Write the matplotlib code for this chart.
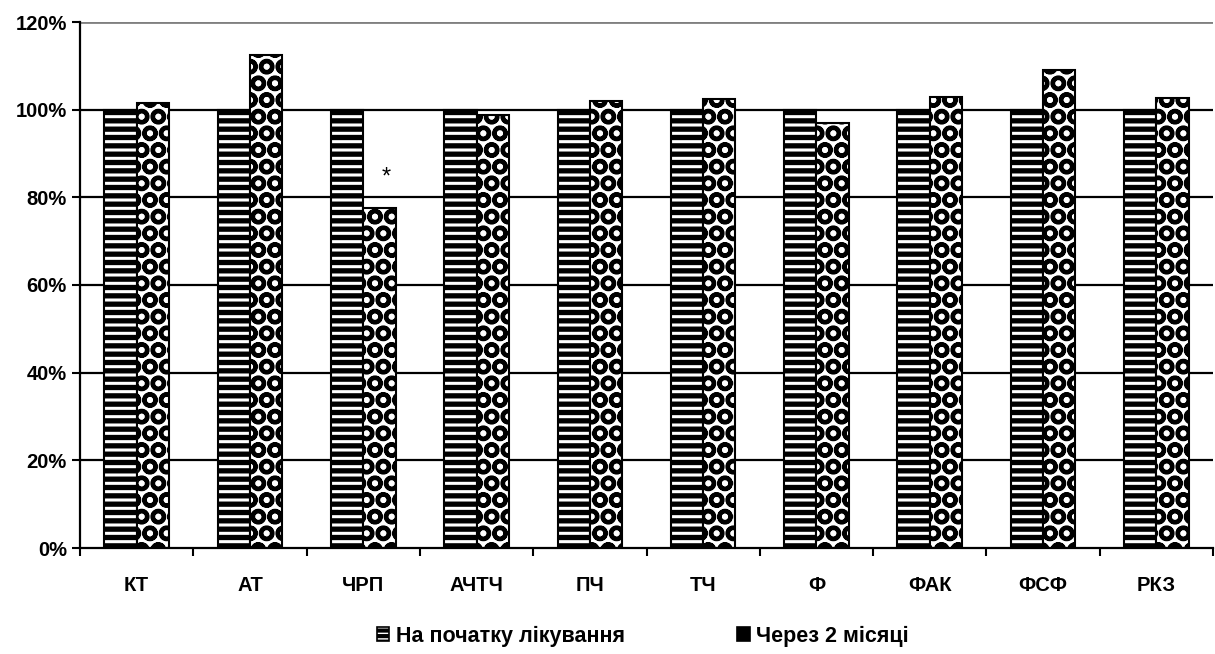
import numpy as np
import matplotlib.pyplot as plt
from matplotlib.patches import Patch

# data
categories = ["КТ", "АТ", "ЧРП", "АЧТЧ", "ПЧ", "ТЧ", "Ф", "ФАК", "ФСФ", "РКЗ"]
before = [100, 100, 100, 100, 100, 100, 100, 100, 100, 100]
after = [101.5, 112.5, 77.6, 98.8, 102.0, 102.4, 97.0, 102.9, 109.0, 102.7]
series_names = ["На початку лікування", "Через 2 місяці"]

plt.rcParams['font.family'] = ['Liberation Sans', 'DejaVu Sans']
plt.rcParams['font.weight'] = 'bold'

fig = plt.figure(figsize=(12.15, 6.54), dpi=100)
ax = fig.add_axes([80 / 1215, 106 / 654, 1133 / 1215, 526 / 654])

x = np.arange(len(categories))
w = 0.285

# grid lines
for v in [20, 40, 60, 80, 100]:
    ax.axhline(v, color='black', lw=1.6, zorder=1)
ax.axhline(120, color='#808080', lw=2, zorder=1)

# first series: horizontal stripes
plt.rcParams['hatch.linewidth'] = 3.8
ax.bar(x - w / 2, before, w, color='white', edgecolor='black', hatch='--', lw=1.5, zorder=2)
h1 = Patch(facecolor='white', edgecolor='black', hatch='---', lw=1.2)

# second series: dark with light circles
plt.rcParams['hatch.linewidth'] = 3.0
ax.bar(x + w / 2, after, w, color='white', edgecolor='black', hatch='O', lw=1.5, zorder=2)
h2 = Patch(facecolor='black', edgecolor='black', lw=1.2)

ax.text(x[2] + w / 2 + 0.06, 82, "*", ha='center', va='bottom', fontsize=17, fontweight='normal')

ax.set_xlim(-0.5, len(categories) - 0.5)
ax.set_ylim(0, 120)
ax.set_yticks(range(0, 121, 20))
ax.set_yticklabels([f"{v}%" for v in range(0, 121, 20)], fontsize=14.5, fontweight='bold')
ax.set_xticks(x)
ax.set_xticklabels(categories, fontsize=14.5, fontweight='bold')
ax.tick_params(axis='x', length=0, pad=20)
ax.set_xticks(np.arange(-0.5, len(categories), 1), minor=True)
ax.tick_params(axis='x', which='minor', length=6, width=1.5, direction='out')
ax.tick_params(axis='y', length=6, width=1.5, direction='out')

for s in ['top', 'right']:
    ax.spines[s].set_visible(False)
ax.spines['left'].set_linewidth(1.6)
ax.spines['bottom'].set_linewidth(1.6)

fig.legend([h1, h2], series_names, loc='center', bbox_to_anchor=(0.529, 0.027), ncol=2,
           frameon=False, columnspacing=5.2, handlelength=0.6, handleheight=0.6,
           handletextpad=0.3, prop={'weight': 'bold', 'size': 15.5})

fig.savefig("out.png", dpi=100)
